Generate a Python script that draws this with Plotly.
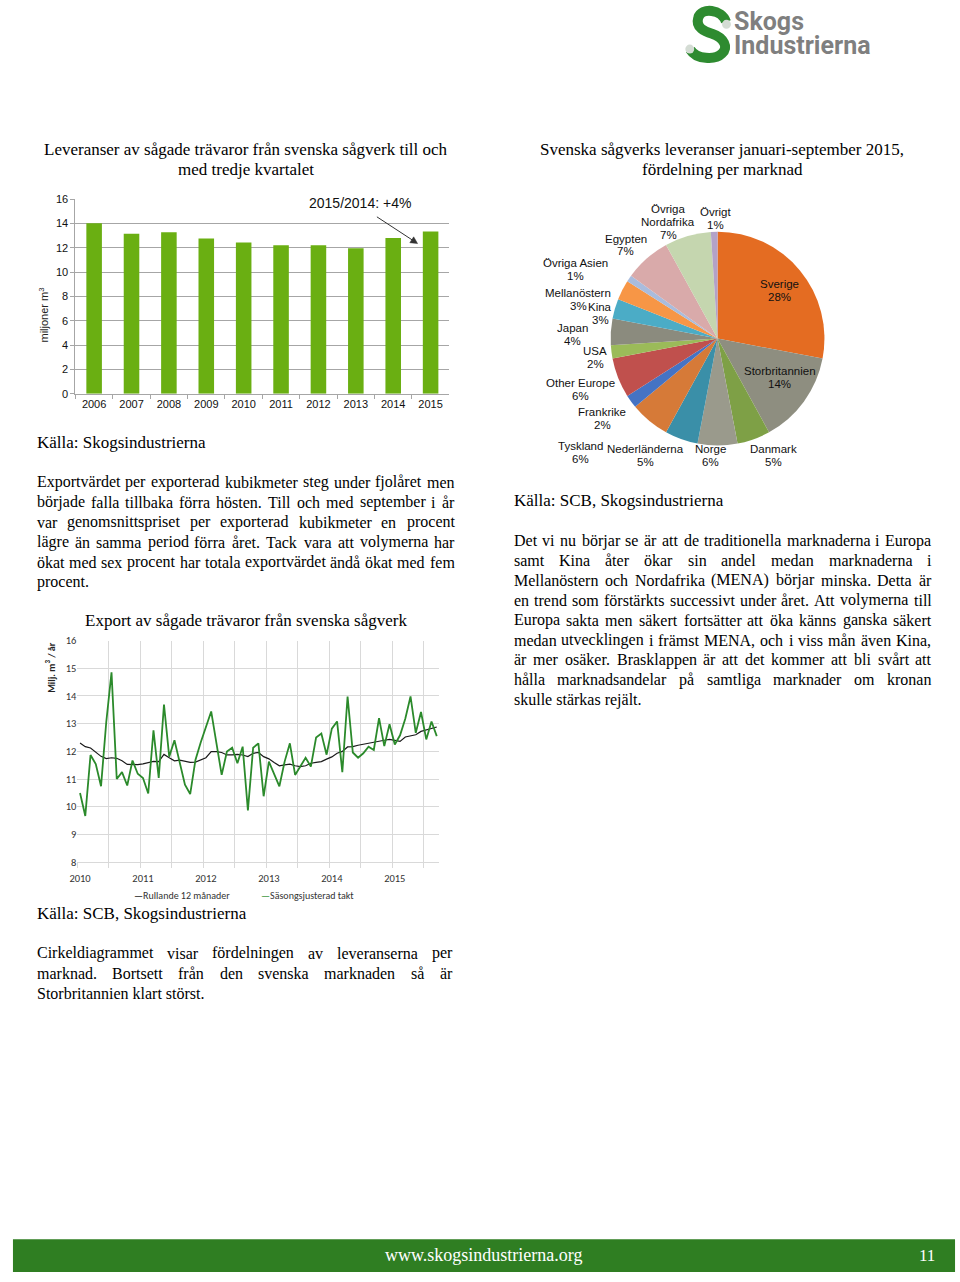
import plotly.graph_objects as go

W, H = 960, 1282

# ---------------- data ----------------
bar_years = ["2006", "2007", "2008", "2009", "2010", "2011", "2012", "2013", "2014", "2015"]
bar_values = [14.0, 13.15, 13.26, 12.75, 12.42, 12.2, 12.2, 11.96, 12.8, 13.34]

pie_labels = ["Sverige", "Storbritannien", "Danmark", "Norge", "Nederländerna", "Tyskland",
              "Frankrike", "Other Europe", "USA", "Japan", "Kina", "Mellanöstern",
              "Övriga Asien", "Egypten", "Övriga Nordafrika", "Övrigt"]
pie_values = [28, 14, 5, 6, 5, 6, 2, 6, 2, 4, 3, 3, 1, 7, 7, 1]
pie_colors = ["#E46C22", "#8E8E80", "#7EA046", "#9A9A8C", "#3A8FA8", "#D67A38",
              "#4573C4", "#C0504D", "#9BBB59", "#8B8B7E", "#4BACC6", "#F79646",
              "#A9BCDD", "#D9AAAA", "#C5D6AF", "#B3A2C7"]

line_year_labels = ["2010", "2011", "2012", "2013", "2014", "2015"]
seasonal = [10.5, 9.67, 11.87, 11.54, 10.74, 13.06, 14.85, 11.0, 11.25, 10.77, 11.67, 11.19,
            11.04, 10.48, 12.76, 11.04, 13.69, 11.81, 12.4, 11.63, 10.8, 10.46, 11.69, 12.32,
            12.85, 13.44, 12.3, 11.15, 11.99, 12.13, 11.57, 12.17, 9.87, 12.13, 12.29, 10.38,
            11.63, 11.21, 10.74, 11.63, 12.29, 11.15, 11.45, 11.77, 11.45, 12.5, 12.64, 11.88,
            12.82, 13.08, 11.25, 13.98, 11.96, 11.77, 11.93, 12.17, 12.05, 13.2, 12.19, 12.98,
            12.25, 12.58, 13.18, 13.98, 12.67, 13.42, 12.43, 13.08, 12.55]
rolling12 = [12.3, 12.17, 12.12, 11.98, 11.82, 11.74, 11.77, 11.75, 11.66, 11.53, 11.52, 11.52,
             11.55, 11.59, 11.64, 11.63, 11.89, 11.77, 11.66, 11.68, 11.63, 11.6, 11.61, 11.68,
             11.77, 11.99, 11.99, 11.96, 11.87, 11.87, 11.89, 11.87, 11.81, 11.93, 11.96, 11.81,
             11.73, 11.6, 11.48, 11.51, 11.54, 11.48, 11.45, 11.48, 11.57, 11.6, 11.63, 11.72,
             11.8, 11.93, 12.0, 12.16, 12.17, 12.22, 12.26, 12.29, 12.32, 12.37, 12.4, 12.43,
             12.4, 12.36, 12.52, 12.55, 12.6, 12.72, 12.78, 12.84, 12.88]
series_names = ["Rullande 12 månader", "Säsongsjusterad takt"]

para_left = [
    "Exportvärdet per exporterad kubikmeter steg under fjolåret men",
    "började falla tillbaka förra hösten. Till och med september i år",
    "var genomsnittspriset per exporterad kubikmeter en procent",
    "lägre än samma period förra året. Tack vara att volymerna har",
    "ökat med sex procent har totala exportvärdet ändå ökat med fem",
    "procent.",
]
para_right = [
    "Det vi nu börjar se är att de traditionella marknaderna i Europa",
    "samt Kina åter ökar sin andel medan marknaderna i",
    "Mellanöstern och Nordafrika (MENA) börjar minska. Detta är",
    "en trend som förstärkts successivt under året. Att volymerna till",
    "Europa sakta men säkert fortsätter att öka känns ganska säkert",
    "medan utvecklingen i främst MENA, och i viss mån även Kina,",
    "är mer osäker. Brasklappen är att det kommer att bli svårt att",
    "hålla marknadsandelar på samtliga marknader om kronan",
    "skulle stärkas rejält.",
]
para_bottom = [
    "Cirkeldiagrammet visar fördelningen av leveranserna per",
    "marknad. Bortsett från den svenska marknaden så är",
    "Storbritannien klart störst.",
]

SERIF = "Liberation Serif"
SANS = "Liberation Sans"
CAL = "Carlito, Lato, sans-serif"

# Times metrics (1/1000 em) for justification
TIMES = dict(zip("abcdefghijklmnopqrstuvwxyz",
                 [444, 500, 444, 500, 444, 333, 500, 500, 278, 278, 500, 278, 778, 500, 500, 500,
                  500, 333, 389, 278, 500, 500, 722, 500, 500, 444]))
TIMES.update(zip("ABCDEFGHIJKLMNOPQRSTUVWXYZ",
                 [722, 667, 667, 722, 611, 556, 722, 722, 333, 389, 722, 611, 889, 722, 722, 556,
                  722, 667, 556, 611, 722, 722, 944, 722, 722, 611]))
TIMES.update({" ": 250, ".": 250, ",": 250, ":": 278, "(": 333, ")": 333, "-": 333,
              "ä": 444, "å": 444, "ö": 500, "é": 444, "Ä": 722, "Å": 722, "Ö": 722})


def tw(s, size):
    return sum(TIMES.get(c, 500) for c in s) * size / 1000.0


def px(x):
    return x / W


def py(y):
    return 1 - y / H


annos = []


def txt(x, y, s, size, family=SERIF, color="black", xa="center", ya="middle", **kw):
    annos.append(dict(x=px(x), y=py(y), xref="paper", yref="paper", text=s, showarrow=False,
                      xanchor=xa, yanchor=ya, borderpad=0, borderwidth=0,
                      font=dict(size=size, family=family, color=color), **kw))


def paragraph(lines, x0, x1, y0, dy, size):
    for k, line in enumerate(lines):
        y = y0 + k * dy
        words = line.split(" ")
        if k == len(lines) - 1 or len(words) == 1:
            txt(x0, y, line, size, xa="left")
            continue
        widths = [tw(w, size) for w in words]
        gap = (x1 - x0 - sum(widths)) / (len(words) - 1)
        x = x0
        for w, wd in zip(words, widths):
            txt(x, y, w, size, xa="left")
            x += wd + gap


fig = go.Figure()

# ---------------- bar chart ----------------
fig.add_trace(go.Bar(x=bar_years, y=bar_values, marker=dict(color="#6AAF12", line=dict(width=0)),
                     xaxis="x", yaxis="y", showlegend=False))

# ---------------- pie chart ----------------
cx, cy, r = 715.5, 336.0, 108.0
fig.add_trace(go.Pie(labels=pie_labels, values=pie_values, sort=False, direction="clockwise",
                     rotation=0, textinfo="none", showlegend=False,
                     marker=dict(colors=pie_colors, line=dict(width=0)),
                     domain=dict(x=[px(cx - r), px(cx + r)], y=[py(cy + r), py(cy - r)])))

# ---------------- line chart ----------------
idx = list(range(len(seasonal)))
fig.add_trace(go.Scatter(x=idx, y=rolling12, mode="lines", name=series_names[0],
                         line=dict(color="#1a1a1a", width=1.2), xaxis="x2", yaxis="y2",
                         showlegend=False))
fig.add_trace(go.Scatter(x=idx, y=seasonal, mode="lines", name=series_names[1],
                         line=dict(color="#2B8A2B", width=1.8), xaxis="x2", yaxis="y2",
                         showlegend=False))

# ---------------- texts ----------------
# logo
txt(732, 16, "<b>Skogs</b>", 25, family="Roboto", color="#7f7f7f", xa="left")
txt(732, 40, "<b>Industrierna</b>", 25, family="Roboto", color="#7f7f7f", xa="left")

# titles
txt(240, 145, "Leveranser av sågade trävaror från svenska sågverk till och", 17)
txt(240, 165, "med tredje kvartalet", 17)
txt(720, 145, "Svenska sågverks leveranser januari-september 2015,", 17)
txt(720, 165, "fördelning per marknad", 17)

# bar chart extras
txt(355, 199, "2015/2014: +4%", 14, family=SANS, color="#111")
txt(36, 312, "miljoner m<sup>3</sup>", 11, family=SANS, color="#222", textangle=-90)

txt(29, 441, "Källa: Skogsindustrierna", 17, xa="left")
paragraph(para_left, 29, 450, 481, 20.2, 16)

txt(240, 621, "Export av sågade trävaror från svenska sågverk", 17)
txt(43, 668, "<b>Milj. m<sup>3</sup> / år</b>", 10, family=CAL, color="#222", textangle=-90)
txt(127, 899, "<span style='color:#000'>—</span>" + series_names[0], 10, family=CAL,
    color="#333", xa="left")
txt(255, 899, "<span style='color:#2B8A2B'>—</span>" + series_names[1], 10, family=CAL,
    color="#333", xa="left")
txt(29, 917, "Källa: SCB, Skogsindustrierna", 17, xa="left")
paragraph(para_bottom, 29, 448, 957, 20.2, 16)

txt(510, 500, "Källa: SCB, Skogsindustrierna", 17, xa="left")
paragraph(para_right, 510, 931, 540, 20.1, 16)

# pie labels (first-line positions)
pie_label_pos = {
    "Sverige": (778, 281), "Storbritannien": (778, 369), "Danmark": (772, 448),
    "Norge": (708, 448), "Nederländerna": (643, 448), "Tyskland": (577, 445),
    "Frankrike": (599, 410), "Other Europe": (577, 381), "USA": (592, 349),
    "Japan": (569, 325), "Kina": (597, 304), "Mellanöstern": (575, 290),
    "Övriga Asien": (572, 260), "Egypten": (623, 235), "Övriga Nordafrika": (666, 205),
    "Övrigt": (713, 208),
}
for lab, val in zip(pie_labels, pie_values):
    x0, y0 = pie_label_pos[lab]
    lines = lab.split(" ") if lab == "Övriga Nordafrika" else [lab]
    lines = lines + [f"{val}%"]
    for k, ln in enumerate(lines):
        txt(x0, y0 + 13 * k, ln, 11.5, family=SANS, color="#111")

# footer
txt(479, 1262, "www.skogsindustrierna.org", 18, color="white")
txt(927, 1262, "11", 17, color="white")


def path(pts, close=False):
    out = []
    for cmd, coords in pts:
        out.append(cmd + " " + " ".join(f"{px(a):.5f},{py(b):.5f}" for a, b in coords))
    return " ".join(out) + (" Z" if close else "")


s_path = path([("M", [(724, 16)]),
               ("C", [(720, 3), (699, 1), (696, 12)]),
               ("C", [(693, 22), (703, 26), (710, 28)]),
               ("C", [(722, 32), (727, 42), (720, 48)]),
               ("C", [(713, 55), (694, 54), (688, 44)])])

arrow_head = path([("M", [(413, 240)]), ("L", [(405.2, 239.1)]), ("L", [(409.1, 233.2)])],
                  close=True)

shapes = [
    dict(type="rect", xref="paper", yref="paper", x0=px(5), x1=px(955), y0=py(1279), y1=py(1246),
         fillcolor="#2F7E22", line=dict(width=0), layer="below"),
    dict(type="path", xref="paper", yref="paper", path=s_path,
         line=dict(color="#2E8B30", width=10)),
    dict(type="circle", xref="paper", yref="paper", x0=px(720), x1=px(729), y0=py(23), y1=py(14),
         fillcolor="#d4dcd4", line=dict(width=0)),
    dict(type="circle", xref="paper", yref="paper", x0=px(683), x1=px(692), y0=py(48), y1=py(39),
         fillcolor="#d4dcd4", line=dict(width=0)),
    dict(type="line", xref="paper", yref="paper", x0=px(372), y0=py(213), x1=px(408), y1=py(236.6),
         line=dict(color="#333", width=1)),
    dict(type="path", xref="paper", yref="paper", path=arrow_head, fillcolor="#333",
         line=dict(color="#333", width=0.5)),
]

grid_gray = "#A6A6A6"
line_grid = "#D9D9D9"
fig.update_layout(
    width=W, height=H, margin=dict(l=0, r=0, t=0, b=0),
    paper_bgcolor="white", plot_bgcolor="rgba(0,0,0,0)",
    annotations=annos, shapes=shapes, bargap=0.584,
    font=dict(family=SANS, size=11, color="#111"),
    xaxis=dict(domain=[px(68), px(445)], anchor="y", type="category", tickson="boundaries",
               range=[-0.5, len(bar_years) - 0.5],
               ticks="outside", ticklen=4, tickcolor=grid_gray, showline=True,
               linecolor=grid_gray, showgrid=False, tickangle=0,
               tickfont=dict(family=SANS, size=11, color="#111"), fixedrange=True),
    yaxis=dict(domain=[py(391.7), py(195)], anchor="x", range=[0, 16], dtick=2,
               showgrid=True, gridcolor=grid_gray, gridwidth=1, zeroline=False, showline=True,
               linecolor=grid_gray, ticks="outside", ticklen=4, tickcolor=grid_gray,
               tickfont=dict(family=SANS, size=11, color="#111"), fixedrange=True),
    xaxis2=dict(domain=[px(70), px(435)], anchor="y2", range=[-0.5, len(seasonal) - 0.5],
                tickmode="array", tickvals=[12 * k for k in range(len(line_year_labels))],
                ticktext=line_year_labels, ticks="outside", ticklen=6,
                tickcolor="rgba(0,0,0,0)", showgrid=False, zeroline=False,
                showline=True, linecolor=line_grid,
                minor=dict(tickmode="array", tickvals=[-0.5 + 6 * k for k in range(12)],
                           showgrid=True, gridcolor=line_grid, ticks="outside", ticklen=5,
                           tickcolor=line_grid),
                tickfont=dict(family=CAL, size=10.5, color="#333"), fixedrange=True),
    yaxis2=dict(domain=[py(865), py(641)], anchor="x2", range=[8, 16], dtick=1,
                showgrid=True, gridcolor=line_grid, zeroline=False, showline=False,
                tickfont=dict(family=CAL, size=10.5, color="#333"), fixedrange=True),
)

fig.write_html("out.html", config={"displayModeBar": False})

with open("out.html", encoding="utf-8") as f:
    html = f.read()
css = "<style>html,body{margin:0 !important;padding:0 !important;overflow:hidden;}</style>"
if "</head>" in html:
    html = html.replace("</head>", css + "</head>", 1)
else:
    html = css + html
with open("out.html", "w", encoding="utf-8") as f:
    f.write(html)
